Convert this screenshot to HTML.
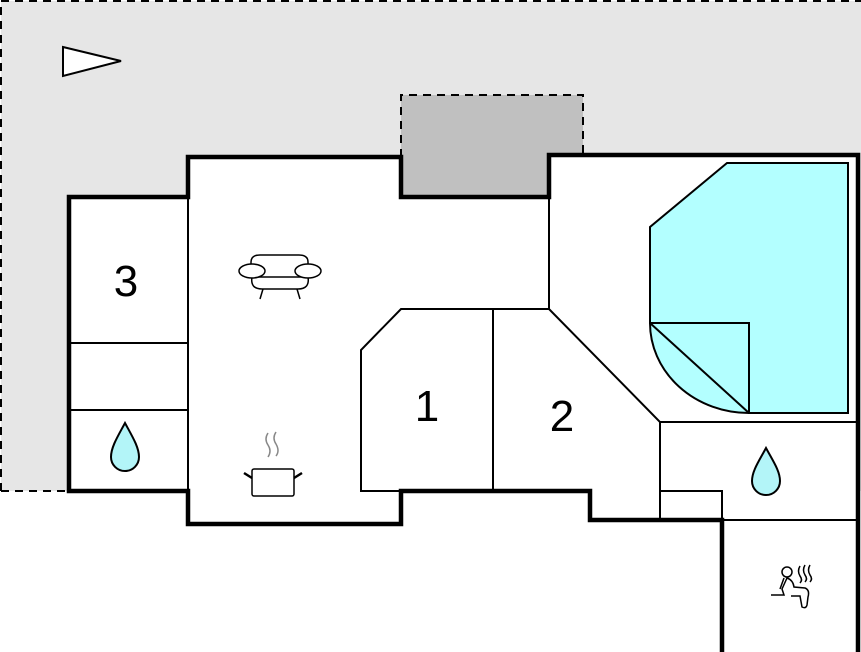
<!DOCTYPE html>
<html><head><meta charset="utf-8"><style>
html,body{margin:0;padding:0;background:#fff;width:861px;height:652px;overflow:hidden}
</style></head><body>
<svg width="861" height="652" viewBox="0 0 861 652" xmlns="http://www.w3.org/2000/svg" font-family="Liberation Sans, sans-serif">
<rect x="1" y="1" width="862" height="490" fill="#e6e6e6"/>
<path d="M1 491 H69 M1 491 V1 H862" fill="none" stroke="#000" stroke-width="2" stroke-dasharray="8,6"/>
<rect x="401" y="95" width="182" height="102" fill="#c0c0c0"/>
<path d="M401 157 V95 H583 V157" fill="none" stroke="#000" stroke-width="2" stroke-dasharray="8,6"/>
<path d="M69 197 H188 V157 H401 V197 H549 V155 H858 V652 H722 V520 H590 V491 H401 V524 H188 V491 H69 Z" fill="#fff"/>
<g fill="none" stroke="#000" stroke-width="2">
<path d="M188 197 V491"/>
<path d="M69 343 H188 M69 410 H188"/>
<path d="M549 197 V309"/>
<path d="M401 491 H361 V350 L401 309 H549 L660 422 V520"/>
<path d="M493 309 V491"/>
<path d="M660 422 H858"/>
<path d="M660 491 H722 V520 H858"/>
</g>
<g stroke="#000" stroke-width="2" fill="#b3ffff">
<path d="M727 163 H848 V413 H749 V323 H650 V227 Z"/>
<path d="M650 323 H749 V413 A99 90 0 0 1 650 323 Z"/>
<path d="M650 323 L749 413" fill="none"/>
</g>
<path d="M69 197 H188 V157 H401 V197 H549 V155 H858 V655 H722 V520 H590 V491 H401 V524 H188 V491 H69 Z" fill="none" stroke="#000" stroke-width="4.5"/>
<polygon points="63,47 121,61 63,76" fill="#fff" stroke="#000" stroke-width="2"/>
<text x="126" y="296" font-size="44" text-anchor="middle">3</text>
<text x="427" y="421" font-size="44" text-anchor="middle">1</text>
<text x="562" y="431" font-size="44" text-anchor="middle">2</text>
<g fill="#b3f5f8" stroke="#000" stroke-width="2">
<path d="M125 423 C118 436 111 447 111 457 A14 14 0 0 0 139 457 C139 447 132 436 125 423 Z"/>
<path d="M766 448 C759 461 752 471 752 481 A14 14 0 0 0 780 481 C780 471 773 461 766 448 Z"/>
</g>
<g fill="#fff" stroke="#000" stroke-width="1.5">
<path d="M251 276 V262 Q251 255 260 255 H299 Q308 255 308 262 V276"/>
<path d="M252 277 Q250 289 262 289 H298 Q310 289 308 277 Z"/>
<ellipse cx="252" cy="271" rx="13" ry="7"/>
<ellipse cx="308" cy="271" rx="13" ry="7"/>
<path d="M263 289 L260 299 M297 289 L300 299"/>
</g>
<g fill="none" stroke-width="1.5">
<path d="M268 445 Q264 439 268 433 M268 445 Q272 451 268 457 M276 444 Q272 438 276 432 M276 444 Q280 451 276 456" stroke="#888"/>
<rect x="252" y="469" width="42" height="27" rx="2" stroke="#000" fill="#fff"/>
<path d="M252 478 L244 473 M294 478 L302 473" stroke="#000" stroke-width="2.5"/>
</g>
<g fill="none" stroke="#000" stroke-width="1.5">
<circle cx="787" cy="572" r="5"/>
<path d="M771 595 H784 L782 589 L787 578 Q793 580 794 587 L805 588 Q810 590 808 597 L807 605 Q806 609 802 607 L800 596 L791 596"/>
<path d="M780 589 L784 578"/>
<path d="M800 566 Q797 571 800 576 Q803 580 800 583 M805 565 Q802 570 805 575 Q808 579 805 582 M810 565 Q807 570 810 575 Q813 579 810 582"/>
</g>
</svg>
</body></html>
